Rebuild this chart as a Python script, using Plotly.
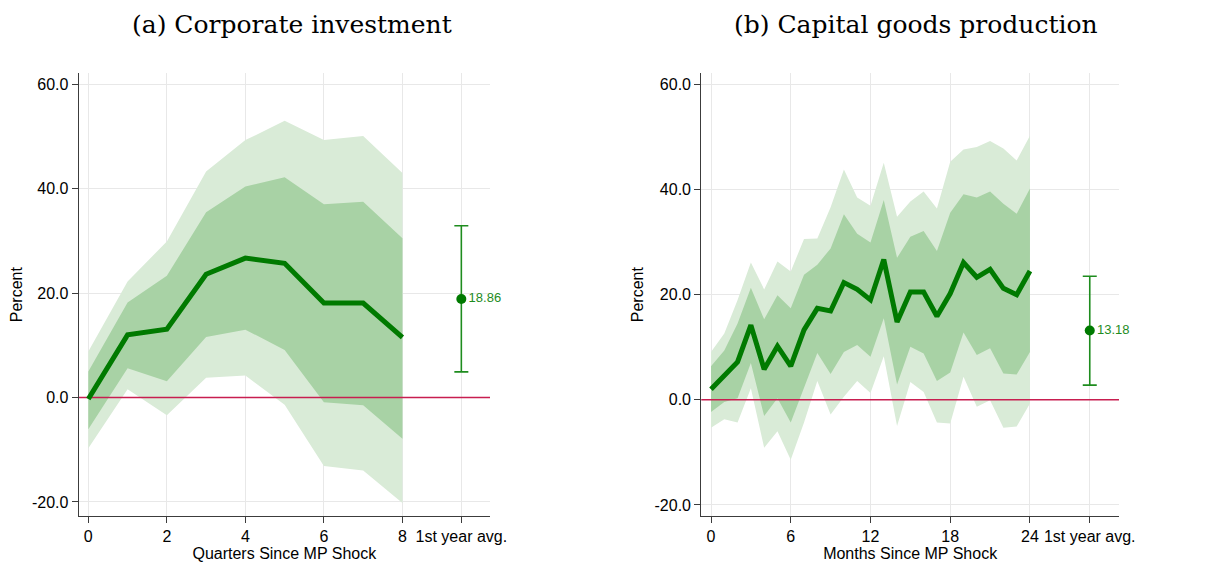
import plotly.graph_objects as go

# ---- Data: panel (a) Corporate investment (quarters) ----
q_h = [0, 1, 2, 3, 4, 5, 6, 7, 8]
q_irf = [-0.3, 12.0, 13.1, 23.6, 26.7, 25.7, 18.1, 18.1, 11.5]
q_in_hi = [5.0, 18.2, 23.3, 35.5, 40.4, 42.2, 37.0, 37.5, 30.5]
q_in_lo = [-6.1, 5.6, 3.1, 11.6, 13.0, 9.1, -0.9, -1.5, -7.9]
q_out_hi = [8.8, 22.2, 29.9, 43.3, 49.3, 53.0, 49.3, 50.1, 43.0]
q_out_lo = [-9.7, 1.6, -3.4, 3.8, 4.2, -1.4, -13.1, -14.0, -20.2]
q_avg = 18.86
q_avg_hi = 32.9
q_avg_lo = 4.9

# ---- Data: panel (b) Capital goods production (months) ----
m_h = list(range(25))
m_irf = [2.0, 4.7, 7.2, 14.2, 5.8, 10.2, 6.4, 13.3, 17.4, 16.9, 22.3, 21.0, 19.0,
         26.7, 14.8, 20.5, 20.5, 15.9, 20.2, 26.1, 23.3, 24.8, 21.2, 20.0, 24.5]
m_in_hi = [6.4, 9.4, 14.5, 21.3, 15.3, 19.9, 17.4, 23.8, 25.7, 28.8, 35.3, 31.6, 29.9,
           38.0, 27.0, 31.0, 32.1, 28.3, 35.6, 39.1, 38.5, 39.6, 37.3, 35.4, 40.2]
m_in_lo = [-2.3, -0.4, 0.3, 7.0, -3.1, 0.3, -4.3, 2.2, 8.9, 4.9, 9.1, 10.4, 8.2,
           15.5, 2.9, 10.1, 8.8, 3.6, 5.2, 12.8, 8.5, 9.8, 5.0, 4.8, 9.1]
m_out_hi = [9.1, 12.6, 19.0, 26.1, 21.0, 26.3, 24.4, 30.6, 30.7, 36.6, 43.8, 38.5, 36.9,
            45.1, 34.8, 37.7, 39.6, 36.4, 45.3, 47.6, 48.1, 49.2, 47.8, 45.5, 50.2]
m_out_lo = [-5.3, -3.7, -4.3, 2.2, -9.1, -6.0, -11.4, -4.3, 3.6, -2.8, 0.6, 3.6, 1.3,
            8.3, -5.0, 3.4, 1.5, -4.3, -4.5, 4.4, -1.3, -0.1, -5.3, -5.1, -0.7]
m_avg = 13.18
m_avg_hi = 23.5
m_avg_lo = 2.8

q_avg_x = 9.5
m_avg_x = 28.5
q_ticks = [0, 2, 4, 6, 8, 9.5]
q_ticklabels = ["0", "2", "4", "6", "8", "1st year avg."]
m_ticks = [0, 6, 12, 18, 24, 28.5]
m_ticklabels = ["0", "6", "12", "18", "24", "1st year avg."]
y_ticks = [-20, 0, 20, 40, 60]
y_ticklabels = ["-20.0", "0.0", "20.0", "40.0", "60.0"]

titles = ["(a) Corporate investment", "(b) Capital goods production"]
xtitles = ["Quarters Since MP Shock", "Months Since MP Shock"]

LINE = "rgb(0,122,0)"
INNER = "rgb(168,210,165)"
OUTER = "rgb(217,235,215)"
ERR = "rgb(30,140,30)"
ZERO = "rgb(200,30,80)"

W, H = 1223, 563  # page body has an 8px margin

fig = go.Figure()

def add_panel(xa, ya, h, irf, ilo, ihi, olo, ohi, avg_x, avg, alo, ahi, xmax):
    fig.add_trace(go.Scatter(x=h, y=olo, mode="lines", line=dict(width=0, color=OUTER),
                             xaxis=xa, yaxis=ya, showlegend=False, hoverinfo="skip"))
    fig.add_trace(go.Scatter(x=h, y=ohi, mode="lines", line=dict(width=0, color=OUTER),
                             fill="tonexty", fillcolor=OUTER,
                             xaxis=xa, yaxis=ya, showlegend=False, hoverinfo="skip"))
    fig.add_trace(go.Scatter(x=h, y=ilo, mode="lines", line=dict(width=0, color=INNER),
                             xaxis=xa, yaxis=ya, showlegend=False, hoverinfo="skip"))
    fig.add_trace(go.Scatter(x=h, y=ihi, mode="lines", line=dict(width=0, color=INNER),
                             fill="tonexty", fillcolor=INNER,
                             xaxis=xa, yaxis=ya, showlegend=False, hoverinfo="skip"))
    fig.add_trace(go.Scatter(x=[-5, xmax + 5], y=[0, 0], mode="lines",
                             line=dict(width=1.6, color=ZERO),
                             xaxis=xa, yaxis=ya, showlegend=False, hoverinfo="skip"))
    fig.add_trace(go.Scatter(x=h, y=irf, mode="lines", line=dict(width=5, color=LINE),
                             xaxis=xa, yaxis=ya, showlegend=False))
    fig.add_trace(go.Scatter(x=[avg_x], y=[avg], mode="markers+text",
                             marker=dict(size=10, color="rgb(0,122,0)"),
                             error_y=dict(type="data", symmetric=False,
                                          array=[ahi - avg], arrayminus=[avg - alo],
                                          color=ERR, thickness=1.6, width=7),
                             text=[f"{avg:.2f}"], textposition="middle right",
                             textfont=dict(family="Liberation Sans, Arial", size=13, color=ERR),
                             cliponaxis=False,
                             xaxis=xa, yaxis=ya, showlegend=False))

add_panel("x", "y", q_h, q_irf, q_in_lo, q_in_hi, q_out_lo, q_out_hi,
          q_avg_x, q_avg, q_avg_lo, q_avg_hi, 10.23)
add_panel("x2", "y2", m_h, m_irf, m_in_lo, m_in_hi, m_out_lo, m_out_hi,
          m_avg_x, m_avg, m_avg_lo, m_avg_hi, 30.7)

FONT = "Liberation Sans, Arial"
common_x = dict(showgrid=True, gridcolor="rgb(232,232,232)", gridwidth=1,
                showline=True, linecolor="rgb(60,60,60)", linewidth=1.2,
                ticks="outside", ticklen=6, tickcolor="rgb(60,60,60)",
                tickfont=dict(family=FONT, size=16, color="black"),
                zeroline=False, mirror=False, automargin=False)
common_y = dict(showgrid=True, gridcolor="rgb(232,232,232)", gridwidth=1,
                showline=True, linecolor="rgb(60,60,60)", linewidth=1.2,
                ticks="outside", ticklen=6, tickcolor="rgb(60,60,60)",
                tickfont=dict(family=FONT, size=16, color="black"),
                zeroline=False, tickmode="array", tickvals=y_ticks, ticktext=y_ticklabels,
                automargin=False,
                title=dict(text="Percent", font=dict(family=FONT, size=16, color="black"), standoff=6))

def px_x(a, b):
    return [(a - 8) / W, (b - 8) / W]

def px_y(top, bottom):
    return [1 - (bottom - 8) / H, 1 - (top - 8) / H]

fig.update_layout(
    width=W, height=H,
    margin=dict(l=0, r=0, t=0, b=0),
    paper_bgcolor="white", plot_bgcolor="white",
    xaxis=dict(common_x, domain=px_x(78.7, 490), range=[-0.245, 10.23],
               tickmode="array", tickvals=q_ticks, ticktext=q_ticklabels,
               title=dict(text=xtitles[0], font=dict(family=FONT, size=16, color="black"), standoff=0),
               anchor="y"),
    yaxis=dict(common_y, domain=px_y(73.3, 516), range=[-22.7, 62.1], anchor="x"),
    xaxis2=dict(common_x, domain=px_x(701.3, 1119), range=[-0.73, 30.7],
                tickmode="array", tickvals=m_ticks, ticktext=m_ticklabels,
                title=dict(text=xtitles[1], font=dict(family=FONT, size=16, color="black"), standoff=0),
                anchor="y2"),
    yaxis2=dict(common_y, domain=px_y(73.3, 516), range=[-22.1, 62.1], anchor="x2"),
    annotations=[
        dict(text=titles[0], x=(292 - 8) / W, y=1, xref="paper", yref="paper",
             xanchor="center", yanchor="top",
             showarrow=False, font=dict(family="DejaVu Serif", size=25, color="black")),
        dict(text=titles[1], x=(916 - 8) / W, y=1, xref="paper", yref="paper",
             xanchor="center", yanchor="top",
             showarrow=False, font=dict(family="DejaVu Serif", size=25, color="black")),
    ],
)

fig.write_html("out.html")
